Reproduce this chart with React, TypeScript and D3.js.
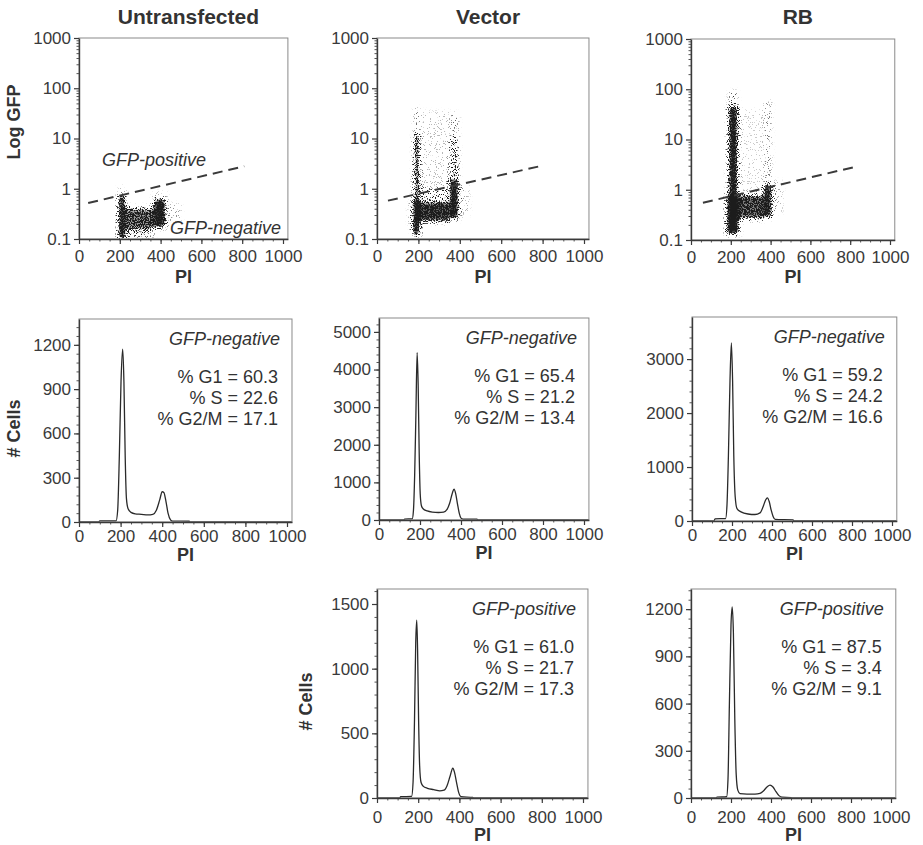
import React, { useEffect, useRef } from 'react';
import * as d3 from 'd3';

const COLUMN_TITLES = ['Untransfected', 'Vector', 'RB'];
const PI_TICKS = [0, 200, 400, 600, 800, 1000];
const LOG_TICKS = [0.1, 1, 10, 100, 1000];
const LOG_TICK_LABELS = ['0.1', '1', '10', '100', '1000'];
const PHASES = ['G1', 'S', 'G2/M'];

// scatter density patches: [PI from, PI to, GFP from, GFP to, density 0..1]
const untransfectedCells = [
  [192, 228, 0.1, 0.72, 0.95],
  [228, 365, 0.15, 0.42, 0.75],
  [365, 425, 0.17, 0.62, 0.95],
  [228, 365, 0.11, 0.15, 0.3],
  [425, 500, 0.22, 0.5, 0.12],
  [195, 230, 0.72, 1.1, 0.12],
  [365, 430, 0.62, 0.85, 0.12],
];
const vectorCells = [
  [172, 208, 0.12, 0.6, 1.0],
  [180, 205, 0.6, 12, 0.9],
  [183, 202, 12, 40, 0.25],
  [208, 350, 0.22, 0.55, 0.85],
  [208, 350, 0.55, 1.1, 0.25],
  [350, 395, 0.25, 1.5, 0.95],
  [355, 392, 1.5, 10, 0.5],
  [358, 392, 10, 32, 0.2],
  [208, 355, 1.1, 35, 0.08],
  [395, 445, 0.3, 1.2, 0.1],
  [150, 172, 0.2, 0.5, 0.08],
];
const rbCells = [
  [178, 242, 0.13, 0.85, 1.0],
  [188, 236, 0.85, 45, 0.95],
  [192, 232, 45, 90, 0.25],
  [242, 368, 0.26, 0.8, 0.8],
  [365, 408, 0.28, 1.3, 0.9],
  [370, 402, 1.3, 60, 0.18],
  [242, 368, 0.8, 40, 0.06],
  [408, 460, 0.35, 1.5, 0.1],
];

// gate line ends [PI, GFP]
const untransfectedGate = [[45, 0.52], [810, 2.8]];
const vectorGate = [[53, 0.58], [802, 2.9]];
const rbGate = [[60, 0.55], [824, 2.85]];

// DNA content histograms [PI, # cells]
const untransfectedNeg = [
  [0, 0], [95, 0], [100, 8], [178, 8], [186, 80], [194, 450], [202, 950], [210, 1170], [216, 950],
  [222, 450], [228, 160], [236, 90], [250, 65], [270, 55], [300, 52], [330, 48], [355, 52], [372, 80],
  [388, 150], [400, 205], [408, 200], [418, 140], [428, 60], [440, 15], [450, 6], [530, 5], [535, 0], [1024, 0],
];
const vectorNeg = [
  [0, 0], [120, 0], [125, 25], [162, 30], [168, 250], [174, 1200], [180, 2800], [186, 4450], [191, 3600],
  [196, 1800], [201, 700], [207, 380], [215, 300], [235, 240], [260, 210], [290, 200], [315, 210], [332, 280],
  [345, 450], [358, 720], [366, 820], [374, 700], [383, 420], [392, 170], [400, 50], [410, 25], [478, 25],
  [482, 0], [1024, 0],
];
const rbNeg = [
  [0, 0], [110, 0], [115, 40], [168, 45], [175, 300], [182, 1200], [190, 2600], [197, 3300], [203, 2600],
  [209, 1200], [216, 450], [225, 230], [245, 170], [280, 130], [315, 120], [340, 150], [355, 260], [368, 390],
  [377, 430], [386, 360], [396, 200], [406, 80], [416, 30], [505, 20], [510, 0], [1024, 0],
];
const vectorPos = [
  [0, 0], [110, 0], [115, 10], [168, 12], [175, 120], [182, 600], [188, 1200], [193, 1375], [197, 1150],
  [202, 600], [207, 250], [214, 120], [225, 90], [245, 75], [275, 65], [305, 55], [325, 60], [340, 95],
  [355, 170], [368, 230], [376, 200], [386, 120], [396, 45], [408, 10], [465, 5], [470, 0], [1024, 0],
];
const rbPos = [
  [0, 0], [125, 0], [130, 5], [178, 8], [185, 120], [192, 600], [200, 1100], [206, 1215], [212, 1050],
  [219, 500], [226, 150], [234, 50], [245, 28], [280, 25], [320, 25], [345, 30], [362, 45], [380, 70],
  [395, 82], [410, 70], [425, 40], [440, 15], [455, 5], [500, 3], [505, 0], [1024, 0],
];

const untransfectedNegTicks = [0, 300, 600, 900, 1200];
const vectorNegTicks = [0, 1000, 2000, 3000, 4000, 5000];
const rbNegTicks = [0, 1000, 2000, 3000];
const vectorPosTicks = [0, 500, 1000, 1500];
const rbPosTicks = [0, 300, 600, 900, 1200];

const untransfectedNegStats = ['60.3', '22.6', '17.1'];
const vectorNegStats = ['65.4', '21.2', '13.4'];
const rbNegStats = ['59.2', '24.2', '16.6'];
const vectorPosStats = ['61.0', '21.7', '17.3'];
const rbPosStats = ['87.5', '3.4', '9.1'];

// ---- layout ----
const W = 923;
const H = 845;
const FONT = '"Liberation Sans", Arial, Helvetica, sans-serif';
const INK = '#333';

type Box = { left: number; x1000: number; top: number; bottom: number };

const SCATTER_BOXES: Box[] = [
  { left: 79, x1000: 283, top: 38, bottom: 239 },
  { left: 377, x1000: 584, top: 38, bottom: 239 },
  { left: 691, x1000: 890, top: 39, bottom: 240 },
];

const HISTS = [
  { box: { left: 79, x1000: 287, top: 319, bottom: 522 }, yMax: 1375, data: untransfectedNeg, ticks: untransfectedNegTicks, stats: untransfectedNegStats, gate: 'GFP-negative', pad: 3, piY: 561, yLabel: 20 },
  { box: { left: 379, x1000: 584, top: 318, bottom: 520 }, yMax: 5370, data: vectorNeg, ticks: vectorNegTicks, stats: vectorNegStats, gate: 'GFP-negative', pad: 3, piY: 559, yLabel: 0 },
  { box: { left: 692, x1000: 892, top: 317, bottom: 521 }, yMax: 3780, data: rbNeg, ticks: rbNegTicks, stats: rbNegStats, gate: 'GFP-negative', pad: 3, piY: 560, yLabel: 0 },
  { box: { left: 377, x1000: 583, top: 589, bottom: 798 }, yMax: 1616, data: vectorPos, ticks: vectorPosTicks, stats: vectorPosStats, gate: 'GFP-positive', pad: 8, piY: 841, yLabel: 312 },
  { box: { left: 691, x1000: 891, top: 589, bottom: 798 }, yMax: 1328, data: rbPos, ticks: rbPosTicks, stats: rbPosStats, gate: 'GFP-positive', pad: 8, piY: 841, yLabel: 0 },
];

const xScale = (b: Box) =>
  d3.scaleLinear().domain([0, 1024]).range([b.left, b.left + (b.x1000 - b.left) * 1.024]);

function styleAxis(sel: any) {
  sel.select('.domain').attr('stroke', '#3a3a3a').attr('stroke-width', 1.4);
  sel.selectAll('.tick line').attr('stroke', '#3a3a3a').attr('stroke-width', 1.2);
  sel.selectAll('.tick text').attr('font-family', FONT).attr('font-size', 17).attr('fill', '#3a3a3a');
}

function drawFrame(svg: any, x: any, y: any, b: Box, xPad: number, yAxis: any, yMinor: number[]) {
  svg.append('rect')
    .attr('x', b.left).attr('y', b.top)
    .attr('width', x(1024) - b.left).attr('height', b.bottom - b.top)
    .attr('fill', 'none').attr('stroke', '#8a8a8a').attr('stroke-width', 1);

  // minor ticks
  svg.append('g').attr('transform', `translate(0,${b.bottom})`)
    .call(d3.axisBottom(x).tickValues(d3.range(50, 1001, 50)).tickSize(2.5).tickSizeOuter(0).tickFormat(() => ''))
    .call((g: any) => g.select('.domain').remove())
    .selectAll('line').attr('stroke', '#555');
  svg.append('g').attr('transform', `translate(${b.left},0)`)
    .call(d3.axisLeft(y).tickValues(yMinor).tickSize(2.5).tickSizeOuter(0).tickFormat(() => ''))
    .call((g: any) => g.select('.domain').remove())
    .selectAll('line').attr('stroke', '#555');

  svg.append('g').attr('transform', `translate(0,${b.bottom})`)
    .call(d3.axisBottom(x).tickValues(PI_TICKS).tickFormat(d3.format('d')).tickSize(5).tickSizeOuter(0).tickPadding(xPad))
    .call(styleAxis);
  svg.append('g').attr('transform', `translate(${b.left},0)`)
    .call(yAxis.tickSize(5).tickSizeOuter(0).tickPadding(3))
    .call(styleAxis);
}

function label(svg: any, text: string, x: number, y: number, opts: any = {}) {
  const t = svg.append('text')
    .attr('x', x).attr('y', y)
    .attr('font-family', FONT)
    .attr('font-size', opts.size || 18)
    .attr('font-weight', opts.bold ? 'bold' : 'normal')
    .attr('font-style', opts.italic ? 'italic' : 'normal')
    .attr('text-anchor', opts.anchor || 'middle')
    .attr('fill', opts.fill || INK)
    .text(text);
  if (opts.rotate) t.attr('transform', `rotate(-90,${x},${y})`);
  return t;
}

const App = () => {
  const ref = useRef<SVGSVGElement>(null);

  useEffect(() => {
    document.body.style.margin = '0';
    const svg = d3.select(ref.current);
    svg.selectAll('*').remove();

    const defs = svg.append('defs');
    // turns soft density patches into grainy dot clouds
    const f = defs.append('filter').attr('id', 'speckle')
      .attr('color-interpolation-filters', 'sRGB')
      .attr('x', '-5%').attr('y', '-5%').attr('width', '110%').attr('height', '110%');
    f.append('feGaussianBlur').attr('in', 'SourceGraphic').attr('stdDeviation', 2).attr('result', 'soft');
    f.append('feTurbulence').attr('type', 'fractalNoise').attr('baseFrequency', 0.85)
      .attr('numOctaves', 2).attr('seed', 7).attr('result', 'noise');
    f.append('feColorMatrix').attr('in', 'noise').attr('type', 'matrix')
      .attr('values', '0 0 0 0 0  0 0 0 0 0  0 0 0 0 0  1 0 0 0 0').attr('result', 'noiseA');
    const ct = f.append('feComponentTransfer').attr('in', 'noiseA').attr('result', 'noiseS');
    ct.append('feFuncA').attr('type', 'linear').attr('slope', 3).attr('intercept', -1);
    f.append('feComposite').attr('in', 'soft').attr('in2', 'noiseS').attr('operator', 'arithmetic')
      .attr('k1', 0).attr('k2', 4).attr('k3', -4).attr('k4', 0).attr('result', 'dots');
    const sc = f.append('feComponentTransfer').attr('in', 'soft').attr('result', 'solid');
    sc.append('feFuncA').attr('type', 'linear').attr('slope', 2.4).attr('intercept', -1.35);
    const m = f.append('feMerge').attr('result', 'mask');
    m.append('feMergeNode').attr('in', 'dots');
    m.append('feMergeNode').attr('in', 'solid');
    f.append('feFlood').attr('flood-color', '#1c1c1c').attr('result', 'ink');
    f.append('feComposite').attr('in', 'ink').attr('in2', 'mask').attr('operator', 'in');

    // ---- row 1: dot plots ----
    const cellSets = [untransfectedCells, vectorCells, rbCells];
    const gates = [untransfectedGate, vectorGate, rbGate];
    const logMinor = LOG_TICKS.flatMap((d) => d3.range(2, 10).map((k) => d * k)).filter((v) => v < 1000);

    SCATTER_BOXES.forEach((b, i) => {
      const x = xScale(b);
      const y = d3.scaleLog().domain([0.1, 1000]).range([b.bottom, b.top]);

      defs.append('clipPath').attr('id', `clip-s${i}`)
        .append('rect').attr('x', b.left).attr('y', b.top)
        .attr('width', x(1024) - b.left).attr('height', b.bottom - b.top);

      svg.append('g').attr('clip-path', `url(#clip-s${i})`)
        .append('g').attr('filter', 'url(#speckle)')
        .selectAll('rect').data(cellSets[i]).enter().append('rect')
        .attr('x', (d: number[]) => x(d[0]))
        .attr('width', (d: number[]) => x(d[1]) - x(d[0]))
        .attr('y', (d: number[]) => y(d[3]))
        .attr('height', (d: number[]) => y(d[2]) - y(d[3]))
        .attr('fill', '#000')
        .attr('fill-opacity', (d: number[]) => d[4]);

      svg.append('path')
        .datum(gates[i])
        .attr('d', d3.line<number[]>().x((d) => x(d[0])).y((d) => y(d[1])))
        .attr('fill', 'none').attr('stroke', '#3a3a3a').attr('stroke-width', 2)
        .attr('stroke-dasharray', '10,6');

      drawFrame(svg, x, y, b, 6,
        d3.axisLeft(y).tickValues(LOG_TICKS).tickFormat((_d: any, k: number) => LOG_TICK_LABELS[k]),
        logMinor);

      label(svg, COLUMN_TITLES[i], (b.left + x(1024)) / 2 + 5, 24, { size: 21, bold: true });
      label(svg, 'PI', (x(0) + x(1024)) / 2, 283, { bold: true });
    });

    label(svg, 'GFP-positive', 102, 166, { italic: true, anchor: 'start' });
    label(svg, 'GFP-negative', 170, 234, { italic: true, anchor: 'start' });
    label(svg, 'Log GFP', 20, 122, { bold: true, rotate: true });

    // ---- rows 2-3: histograms ----
    HISTS.forEach((h, i) => {
      const b = h.box;
      const x = xScale(b);
      const y = d3.scaleLinear().domain([0, h.yMax]).range([b.bottom, b.top]);
      const step = h.ticks[1] - h.ticks[0];

      defs.append('clipPath').attr('id', `clip-h${i}`)
        .append('rect').attr('x', b.left).attr('y', b.top)
        .attr('width', x(1024) - b.left).attr('height', b.bottom - b.top);

      svg.append('path')
        .datum(h.data)
        .attr('clip-path', `url(#clip-h${i})`)
        .attr('d', d3.line<number[]>().x((d) => x(d[0])).y((d) => y(d[1])).curve(d3.curveMonotoneX))
        .attr('fill', 'none').attr('stroke', '#2a2a2a').attr('stroke-width', 1.3);

      drawFrame(svg, x, y, b, h.pad,
        d3.axisLeft(y).tickValues(h.ticks).tickFormat(d3.format('d')),
        d3.range(step / 5, h.yMax, step / 5));

      const right = x(1024);
      label(svg, h.gate, right - 12, b.top + 26, { italic: true, anchor: 'end' });
      h.stats.forEach((v, k) => {
        label(svg, `% ${PHASES[k]} = ${v}`, right - 14, b.top + 64 + k * 21, { anchor: 'end' });
      });
      label(svg, 'PI', (x(0) + x(1024)) / 2, h.piY, { bold: true });
      if (h.yLabel) label(svg, '# Cells', h.yLabel, (b.top + b.bottom) / 2 + 8, { bold: true, rotate: true });
    });
  }, []);

  return (
    <svg
      ref={ref}
      width={W}
      height={H}
      style={{ position: 'absolute', left: 0, top: 0, background: '#fff' }}
    />
  );
};

export default App;
